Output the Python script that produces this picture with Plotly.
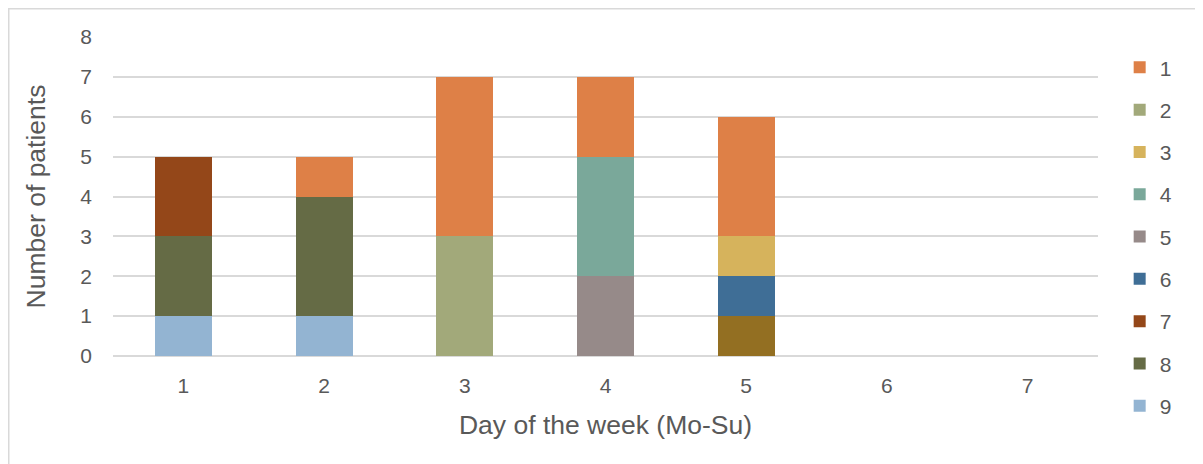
import plotly.graph_objects as go

days = [1, 2, 3, 4, 5, 6, 7]
tick_labels = ["1", "2", "3", "4", "5", "6", "7"]

s1 = [0, 1, 4, 2, 3, 0, 0]
s2 = [0, 0, 3, 0, 0, 0, 0]
s3 = [0, 0, 0, 0, 1, 0, 0]
s4 = [0, 0, 0, 3, 0, 0, 0]
s5 = [0, 0, 0, 2, 0, 0, 0]
s6 = [0, 0, 0, 0, 1, 0, 0]
s7 = [2, 0, 0, 0, 0, 0, 0]
s8 = [2, 3, 0, 0, 0, 0, 0]
s9 = [1, 1, 0, 0, 0, 0, 0]
s10 = [0, 0, 0, 0, 1, 0, 0]

series = [
    ("10", s10, "#936F22", False),
    ("9", s9, "#93B4D2", True),
    ("8", s8, "#656B45", True),
    ("7", s7, "#944719", True),
    ("6", s6, "#3F6E96", True),
    ("5", s5, "#968A89", True),
    ("4", s4, "#7AA89A", True),
    ("3", s3, "#D6B35C", True),
    ("2", s2, "#A2A97A", True),
    ("1", s1, "#DE8047", True),
]

fig = go.Figure()
for name, vals, color, show in series:
    fig.add_trace(go.Bar(
        x=days, y=vals, name=name, marker_color=color,
        marker_line_width=0, showlegend=show,
        legendrank=int(name), legendgroup=name,
    ))

font_color = "#595959"
W, H = 1195, 456
L, T, R, B = 105, 29, 105, 108
PW = W - L - R
PH = H - T - B
fig.update_layout(
    barmode="stack",
    bargap=0.595,
    width=W, height=H,
    margin=dict(l=L, r=R, t=T, b=B, autoexpand=False),
    paper_bgcolor="white", plot_bgcolor="white",
    font=dict(family="Liberation Sans, Arial, sans-serif", color=font_color, size=21),
    legend=dict(
        x=1.022, y=0.968, xanchor="left", yanchor="top",
        font=dict(size=21, color=font_color),
        tracegroupgap=12, itemwidth=30, maxheight=440,
    ),
    xaxis=dict(
        range=[0.5, 7.5], tickvals=days, ticktext=tick_labels,
        showgrid=False, zeroline=False, showline=False, ticks="",
        tickfont=dict(size=21, color=font_color), ticklabelstandoff=15,
        automargin=False,
        title=dict(text="Day of the week (Mo-Su)", font=dict(size=26.5, color=font_color), standoff=19),
    ),
    yaxis=dict(
        range=[0, 8], dtick=1, showgrid=True, gridcolor="#D9D9D9", gridwidth=1.5,
        zeroline=True, zerolinecolor="#D9D9D9", zerolinewidth=1.5,
        showline=False, ticks="", automargin=False,
        tickfont=dict(size=21, color=font_color), ticklabelstandoff=20,
        title=dict(text="Number of patients", font=dict(size=26.5, color=font_color), standoff=27),
    ),
)

fig.add_shape(type="rect", xref="paper", yref="paper",
              x0=(0.75 - L) / PW, x1=1.3, y0=-0.6, y1=1 + (T - 0.75) / PH,
              line=dict(color="#D9D9D9", width=1.5), fillcolor="rgba(0,0,0,0)", layer="below")

fig.write_html("out.html")
